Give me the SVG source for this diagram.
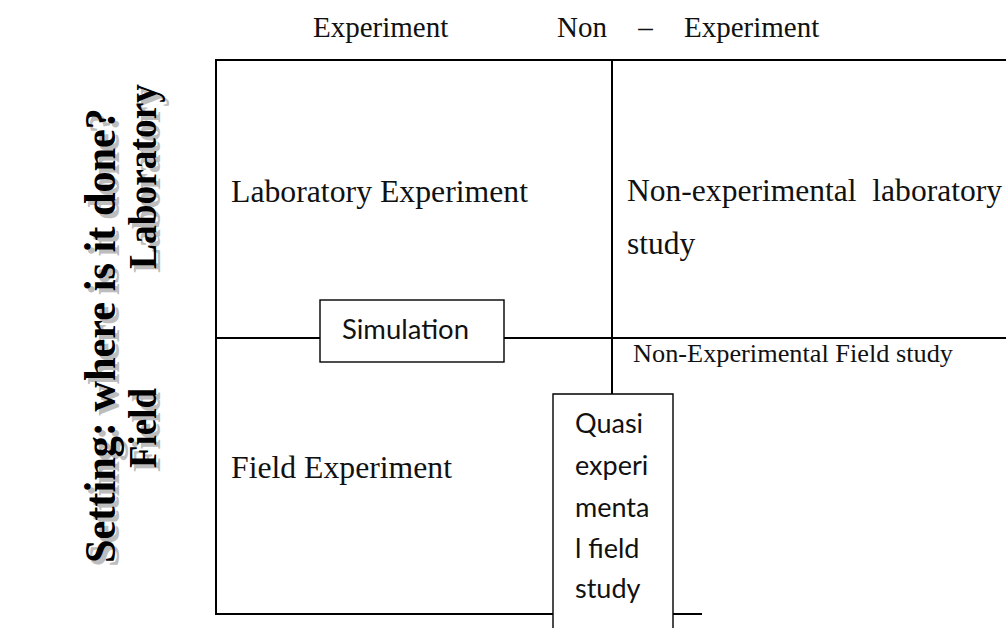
<svg xmlns="http://www.w3.org/2000/svg" width="1006" height="628" viewBox="0 0 1006 628">
  <style>
    .grid { stroke: #000; stroke-width: 2; fill: none; }
    .box { stroke: #000; stroke-width: 1.4; fill: #fff; }
    .serif { font-family: "Liberation Serif", "Times New Roman", serif; fill: #111; }
    .sans { font-family: Lato, "Open Sans", "Liberation Sans", sans-serif; fill: #111; }
    .side { font-family: "Liberation Serif", "Times New Roman", serif; font-weight: bold; }
    .shadow { fill: #bdbdbd; }
    .ink { fill: #000; }
  </style>
  <rect width="1006" height="628" fill="#fff"/>

  <g id="headings">
    <text class="serif" x="313" y="37" font-size="29">Experiment</text>
    <text class="serif" x="557" y="37" font-size="29" word-spacing="24">Non – Experiment</text>
  </g>

  <g id="side-labels">
    <g id="setting-label">
      <text class="side shadow" transform="translate(119,567) rotate(-90)" font-size="44" textLength="455" lengthAdjust="spacingAndGlyphs">Setting: where is it done?</text>
      <text class="side ink" transform="translate(115,563) rotate(-90)" font-size="44" textLength="455" lengthAdjust="spacingAndGlyphs">Setting: where is it done?</text>
    </g>
    <g id="laboratory-label">
      <text class="side shadow" transform="translate(160,273) rotate(-90)" font-size="39" textLength="185" lengthAdjust="spacingAndGlyphs">Laboratory</text>
      <text class="side ink" transform="translate(156,269) rotate(-90)" font-size="39" textLength="185" lengthAdjust="spacingAndGlyphs">Laboratory</text>
    </g>
    <g id="field-label">
      <text class="side shadow" transform="translate(160,472) rotate(-90)" font-size="39" textLength="80" lengthAdjust="spacingAndGlyphs">Field</text>
      <text class="side ink" transform="translate(156,468) rotate(-90)" font-size="39" textLength="80" lengthAdjust="spacingAndGlyphs">Field</text>
    </g>
  </g>

  <g id="connectors">
    <path class="grid" d="M216 60 H1006"/>
    <path class="grid" d="M216 59 V615"/>
    <path class="grid" d="M612 60 V394"/>
    <path class="grid" d="M216 338 H320 M504 338 H1006"/>
    <path class="grid" d="M216 614 H553 M673 614 H702"/>
  </g>

  <g id="cell-lab-experiment">
    <text class="serif" x="231" y="202" font-size="31.5" textLength="297" lengthAdjust="spacingAndGlyphs">Laboratory Experiment</text>
  </g>
  <g id="cell-nonexp-lab">
    <text class="serif" x="627" y="201" font-size="31.5" xml:space="preserve" textLength="375" lengthAdjust="spacingAndGlyphs">Non-experimental  laboratory</text>
    <text class="serif" x="627" y="254" font-size="31.5">study</text>
  </g>
  <g id="cell-field-experiment">
    <text class="serif" x="231" y="478" font-size="31.5" textLength="221" lengthAdjust="spacingAndGlyphs">Field Experiment</text>
  </g>
  <g id="cell-nonexp-field">
    <text class="serif" x="633" y="362" font-size="25" textLength="320" lengthAdjust="spacingAndGlyphs">Non-Experimental Field study</text>
  </g>

  <g id="simulation">
    <rect class="box" x="320" y="300" width="184" height="62"/>
    <text class="sans" x="342" y="339" font-size="27" textLength="127" lengthAdjust="spacingAndGlyphs">Simulation</text>
  </g>

  <g id="quasi-experimental">
    <path class="box" d="M553 640 V394 H673 V640"/>
    <text class="sans" font-size="27">
      <tspan x="575" y="433">Quasi</tspan>
      <tspan x="575" y="475">experi</tspan>
      <tspan x="575" y="517">menta</tspan>
      <tspan x="575" y="558">l field</tspan>
      <tspan x="575" y="598">study</tspan>
    </text>
  </g>
</svg>
